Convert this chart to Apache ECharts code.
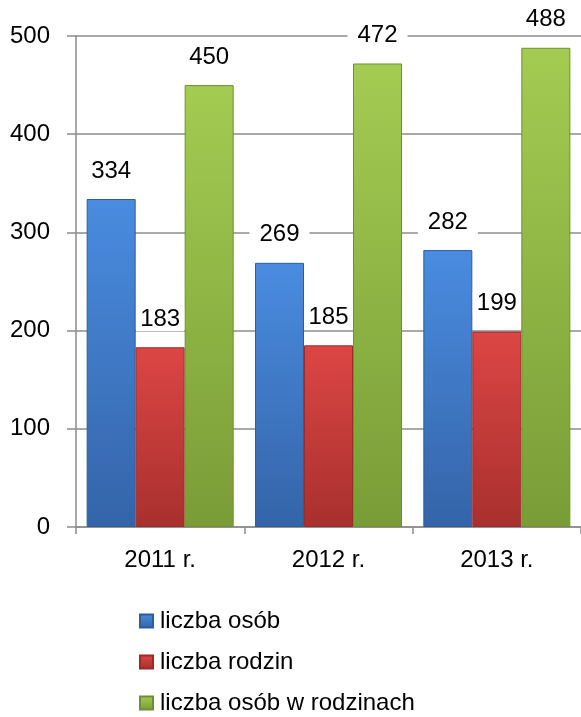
<!DOCTYPE html>
<html>
<head>
<meta charset="utf-8">
<script src="https://cdn.jsdelivr.net/npm/echarts@6/dist/echarts.min.js"></script>
<style>
  html, body { margin: 0; padding: 0; background: #fff; }
  #chart { width: 581px; height: 717px; }
</style>
</head>
<body>
<div id="chart"></div>
<script>
var years = ['2011 r.', '2012 r.', '2013 r.'];
var seriesNames = ['liczba osób', 'liczba rodzin', 'liczba osób w rodzinach'];
var osoby = [334, 269, 282];
var rodziny = [183, 185, 199];
var osobyWRodzinach = [450, 472, 488];

function grad(top, bottom) {
  return new echarts.graphic.LinearGradient(0, 0, 0, 1, [
    { offset: 0, color: top },
    { offset: 1, color: bottom }
  ]);
}

var font = 'Liberation Sans, Arial, sans-serif';

function barSeries(name, data, top, bottom, border, pad) {
  return {
    name: name,
    type: 'bar',
    data: data,
    barWidth: 49,
    barGap: '0%',
    itemStyle: {
      color: grad(top, bottom),
      borderColor: border,
      borderWidth: 1
    },
    label: {
      show: true,
      position: 'top',
      distance: 16,
      fontSize: 24,
      fontFamily: font,
      color: '#000',
      backgroundColor: '#fff',
      padding: [0, pad]
    }
  };
}

var chart = echarts.init(document.getElementById('chart'));
chart.setOption({
  animation: false,
  grid: { left: 76, right: -7, top: 36, bottom: 190 },
  xAxis: {
    type: 'category',
    data: years,
    axisLine: { lineStyle: { color: '#8c8c8c', width: 1.5 } },
    axisTick: { show: true, length: 7, lineStyle: { color: '#8c8c8c', width: 1.5 } },
    axisLabel: { fontSize: 24, fontFamily: font, color: '#000', margin: 21 }
  },
  yAxis: {
    type: 'value',
    min: 0,
    max: 500,
    interval: 100,
    axisLine: { show: true, lineStyle: { color: '#8c8c8c', width: 1.5 } },
    axisTick: { show: true, length: 9, lineStyle: { color: '#8c8c8c', width: 1.5 } },
    splitLine: { lineStyle: { color: '#8c8c8c', width: 1.5 } },
    axisLabel: { fontSize: 24, fontFamily: font, color: '#000', margin: 26 }
  },
  legend: {
    orient: 'vertical',
    left: 139,
    top: 609,
    height: 140,
    padding: 0,
    itemWidth: 13,
    itemHeight: 13,
    itemGap: 17,
    icon: 'rect',
    textStyle: { fontSize: 24, lineHeight: 24, fontFamily: font, color: '#000', padding: [0, 0, 0, 2] },
    data: seriesNames
  },
  series: [
    barSeries(seriesNames[0], osoby, '#4a8ce0', '#3464a8', '#2f5d9c', 10),
    barSeries(seriesNames[1], rodziny, '#dc4644', '#a8302e', '#9c2b29', 4),
    barSeries(seriesNames[2], osobyWRodzinach, '#a3cc52', '#7a9c37', '#6f8f31', 10)
  ]
});
</script>
</body>
</html>
